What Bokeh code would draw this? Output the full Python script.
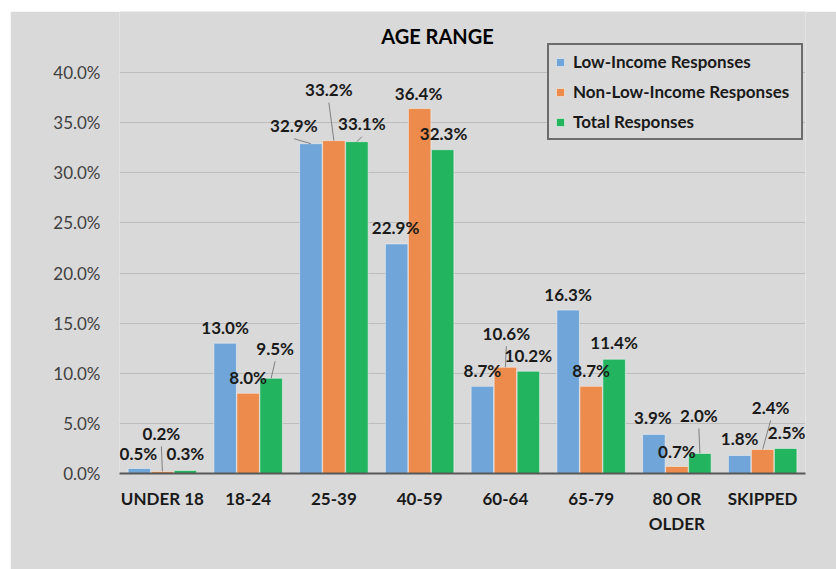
from bokeh.plotting import figure
from bokeh.models import ColumnDataSource, Range1d, FactorRange, Label, Legend
from bokeh.transform import dodge
from bokeh.embed import file_html
from bokeh.resources import INLINE

categories = ["UNDER 18", "18-24", "25-39", "40-59", "60-64", "65-79", "80 OR\nOLDER", "SKIPPED"]
low_income = [0.5, 13.0, 32.9, 22.9, 8.7, 16.3, 3.9, 1.8]
non_low_income = [0.2, 8.0, 33.2, 36.4, 10.6, 8.7, 0.7, 2.4]
total = [0.3, 9.5, 33.1, 32.3, 10.2, 11.4, 2.0, 2.5]
series_names = ["Low-Income Responses", "Non-Low-Income Responses", "Total Responses"]
y_ticks = [0, 5, 10, 15, 20, 25, 30, 35, 40]
chart_title = "AGE RANGE"

# label placement (pixel offsets from bar top centre) -- layout only
label_dx = [[-1, 0, -17, -1, 0, 0, -1, 0],
            [-1, 0, -5, -1, 1, 0, 0, 8],
            [0, 4, 5, 1, 0, 0, -1, 1]]
label_up = [[15, 16, 18, 16, 16, 16, 17, 17],
            [38, 16, 51, 15, 34, 16, 15, 42],
            [17, 30, 18, 16, 16, 17, 38, 16]]
leader = [[0, 0, 1, 0, 0, 0, 0, 0],
          [1, 0, 1, 0, 1, 0, 0, 1],
          [0, 1, 1, 0, 0, 0, 1, 0]]

colors = ["#6fa5d8", "#ec8b4b", "#22b45f"]
bg = "#d9d9d9"
FONT = "Lato"

# page geometry
OX, OY = 10, 11            # figure's top-left on the page
W, H = 826, 558
FL, FT, FR, FB = 119, 11, 805, 473   # frame edges on the page
ML, MR, MT, MB = FL - OX, OX + W - FR, FT - OY, OY + H - FB
FW = FR - FL
FH = FB - FT
PX_X = FW / len(categories)
PX_Y = (473 - 72) / 40.0
YMAX = FH / PX_Y

p = figure(x_range=FactorRange(*categories, range_padding=0, factor_padding=0),
           y_range=Range1d(0, YMAX), width=W, height=H,
           output_backend="svg", toolbar_location=None,
           min_border_left=ML, min_border_right=MR, min_border_top=MT, min_border_bottom=MB)
p.styles = {"margin-left": "%dpx" % OX, "margin-top": "%dpx" % OY}
p.background_fill_color = bg
p.border_fill_color = bg
p.outline_line_color = None

series = [low_income, non_low_income, total]
offs = [-23 / PX_X, 0.0, 23 / PX_X]
bw = 22.5 / PX_X

src = ColumnDataSource(dict(cat=categories, s0=low_income, s1=non_low_income, s2=total))
renderers = []
for k in range(3):
    r = p.vbar(x=dodge("cat", offs[k], range=p.x_range), top="s%d" % k, width=bw, source=src,
               fill_color=colors[k], line_color="#f2f2f2", line_width=0.8, line_alpha=0.7)
    renderers.append(r)

# leaders
lx0, ly0, lx1, ly1 = [], [], [], []
for k in range(3):
    for i, v in enumerate(series[k]):
        if leader[k][i]:
            bx = i + 0.5 + offs[k]
            lx0.append(bx + label_dx[k][i] / PX_X)
            ly0.append(v + (label_up[k][i] - 13) / PX_Y)
            lx1.append(bx)
            ly1.append(v)
p.segment(x0=lx0, y0=ly0, x1=lx1, y1=ly1, line_color="#808080", line_width=1)

# data labels
for k in range(3):
    lsrc = ColumnDataSource(dict(
        cat=categories, v=series[k],
        txt=["%.1f%%" % v for v in series[k]],
        xo=label_dx[k], yo=[-u for u in label_up[k]]))
    p.text(x=dodge("cat", offs[k], range=p.x_range), y="v", text="txt", x_offset="xo", y_offset="yo",
           source=lsrc, text_align="center", text_baseline="middle",
           text_font={"value": FONT}, text_font_style="bold", text_font_size="17px", text_color="#1a1a1a")

# title
title = Label(x=(437 - FL) / PX_X, y=(FB - 35) / PX_Y, text=chart_title,
              text_align="center", text_baseline="middle", text_font=FONT, text_font_style="bold",
              text_font_size="20px", text_color="#000000")
p.add_layout(title)

# axes
p.yaxis.ticker = y_ticks
p.yaxis.major_label_overrides = {t: "%.1f%%" % t for t in y_ticks}
p.yaxis.axis_line_color = None
p.yaxis.major_tick_line_color = None
p.yaxis.minor_tick_line_color = None
p.yaxis.major_label_standoff = 13
p.yaxis.major_label_text_font = FONT
p.yaxis.major_label_text_font_size = "17px"
p.yaxis.major_label_text_color = "#404040"

p.xaxis.axis_line_color = "#595959"
p.xaxis.axis_line_width = 2
p.xaxis.major_tick_line_color = None
p.xaxis.major_label_standoff = 8
p.xaxis.major_label_text_font = FONT
p.xaxis.major_label_text_font_style = "bold"
p.xaxis.major_label_text_font_size = "17px"
p.xaxis.major_label_text_color = "#1a1a1a"

p.xgrid.grid_line_color = None
p.ygrid.ticker = y_ticks
p.ygrid.grid_line_color = "#bdbdbd"
p.ygrid.grid_line_width = 1

legend = Legend(items=[(series_names[k], [renderers[k]]) for k in range(3)],
                location=(547 - FL, FB - 140))
legend.border_line_color = "#000000"
legend.border_line_width = 2
legend.background_fill_color = bg
legend.background_fill_alpha = 1
legend.label_text_font = FONT
legend.label_text_font_style = "bold"
legend.label_text_font_size = "17px"
legend.label_text_color = "#1a1a1a"
legend.glyph_width = 10
legend.glyph_height = 10
legend.label_standoff = 8
legend.label_height = 16
legend.label_width = 222
legend.spacing = 9
legend.padding = 6
legend.margin = 0
p.add_layout(legend)

open("out.html", "w").write(file_html(p, INLINE))
